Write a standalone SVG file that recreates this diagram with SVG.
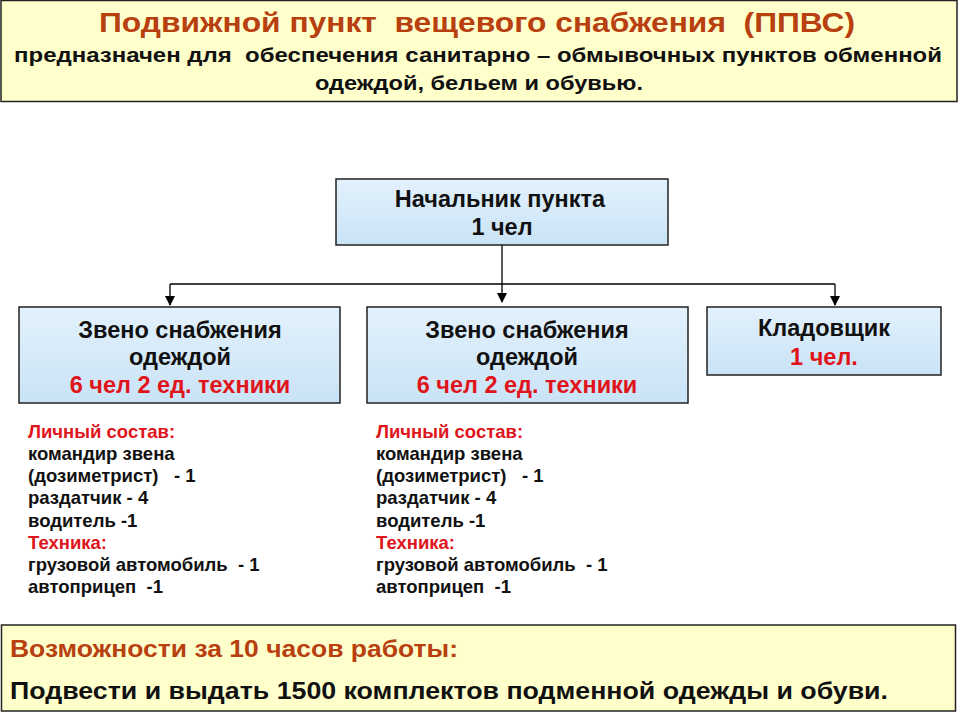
<svg xmlns="http://www.w3.org/2000/svg" width="960" height="720" viewBox="0 0 960 720">
<defs>
<linearGradient id="blue" x1="0" y1="0" x2="0" y2="1">
<stop offset="0" stop-color="#E3F1FC"/>
<stop offset="1" stop-color="#C9E3F6"/>
</linearGradient>
<marker id="arr" markerWidth="10" markerHeight="10" refX="9" refY="5" orient="auto" markerUnits="userSpaceOnUse">
<path d="M0,0 L10,5 L0,10 z" fill="#000"/>
</marker>
<style>
text{white-space:pre}
.yel{fill:#FFFFCC;stroke:#222;stroke-width:1.5}
.node{fill:url(#blue);stroke:#222;stroke-width:1.5}
.t{font-family:"Liberation Sans",Arial,sans-serif;font-weight:bold;fill:#111}
.n{font-family:"Liberation Sans Narrow","Liberation Sans",Arial,sans-serif;font-weight:bold}
.c{text-anchor:middle}
.red{fill:#E0141B}
.brown{fill:#B8400F}
.conn{stroke:#000;stroke-width:1.3;fill:none}
.b{font-size:23.5px}
.l{font-size:18.5px}
</style>
</defs>
<rect width="960" height="720" fill="#fff"/>

<g id="header">
<rect class="yel" x="1" y="0.5" width="956" height="101"/>
<text class="n c brown" x="477" y="32" font-size="27" textLength="756" lengthAdjust="spacingAndGlyphs">Подвижной пункт  вещевого снабжения  (ППВС)</text>
<text class="n c" x="478" y="62" font-size="21" fill="#111" textLength="928" lengthAdjust="spacingAndGlyphs">предназначен для  обеспечения санитарно – обмывочных пунктов обменной</text>
<text class="n c" x="479" y="90" font-size="21" fill="#111" textLength="328" lengthAdjust="spacingAndGlyphs">одеждой, бельем и обувью.</text>
</g>

<g id="connectors">
<path class="conn" d="M502,245 V302" marker-end="url(#arr)"/>
<path class="conn" d="M170,284 H835"/>
<path class="conn" d="M170,284 V305" marker-end="url(#arr)"/>
<path class="conn" d="M835,284 V305" marker-end="url(#arr)"/>
</g>

<g id="head">
<rect class="node" x="336" y="179" width="332" height="66"/>
<text class="t c b" x="500" y="207">Начальник пункта</text>
<text class="t c b" x="502" y="235">1 чел</text>
</g>

<g id="unit1">
<rect class="node" x="19" y="307" width="321" height="96"/>
<text class="t c b" x="180" y="338">Звено снабжения</text>
<text class="t c b" x="180" y="365">одеждой</text>
<text class="t c b red" x="180" y="393">6 чел 2 ед. техники</text>
</g>

<g id="unit2">
<rect class="node" x="367" y="307" width="321" height="96"/>
<text class="t c b" x="527" y="338">Звено снабжения</text>
<text class="t c b" x="527" y="365">одеждой</text>
<text class="t c b red" x="527" y="393">6 чел 2 ед. техники</text>
</g>

<g id="storekeeper">
<rect class="node" x="707" y="307" width="234" height="68"/>
<text class="t c b" x="824" y="336">Кладовщик</text>
<text class="t c b red" x="824" y="365">1 чел.</text>
</g>

<g id="list1">
<text class="t l red" x="28" y="438">Личный состав:</text>
<text class="t l" x="28" y="460">командир звена</text>
<text class="t l" x="28" y="482">(дозиметрист)   - 1</text>
<text class="t l" x="28" y="504">раздатчик - 4</text>
<text class="t l" x="28" y="527">водитель -1</text>
<text class="t l red" x="28" y="549">Техника:</text>
<text class="t l" x="28" y="571">грузовой автомобиль  - 1</text>
<text class="t l" x="28" y="593">автоприцеп  -1</text>
</g>

<g id="list2">
<text class="t l red" x="376" y="438">Личный состав:</text>
<text class="t l" x="376" y="460">командир звена</text>
<text class="t l" x="376" y="482">(дозиметрист)   - 1</text>
<text class="t l" x="376" y="504">раздатчик - 4</text>
<text class="t l" x="376" y="527">водитель -1</text>
<text class="t l red" x="376" y="549">Техника:</text>
<text class="t l" x="376" y="571">грузовой автомобиль  - 1</text>
<text class="t l" x="376" y="593">автоприцеп  -1</text>
</g>

<g id="footer">
<rect class="yel" x="1.5" y="625" width="954" height="86"/>
<text class="n brown" x="10" y="657" font-size="23" textLength="448" lengthAdjust="spacingAndGlyphs">Возможности за 10 часов работы:</text>
<text class="n" x="10" y="699" font-size="23" fill="#111" textLength="878" lengthAdjust="spacingAndGlyphs">Подвести и выдать 1500 комплектов подменной одежды и обуви.</text>
</g>
</svg>
